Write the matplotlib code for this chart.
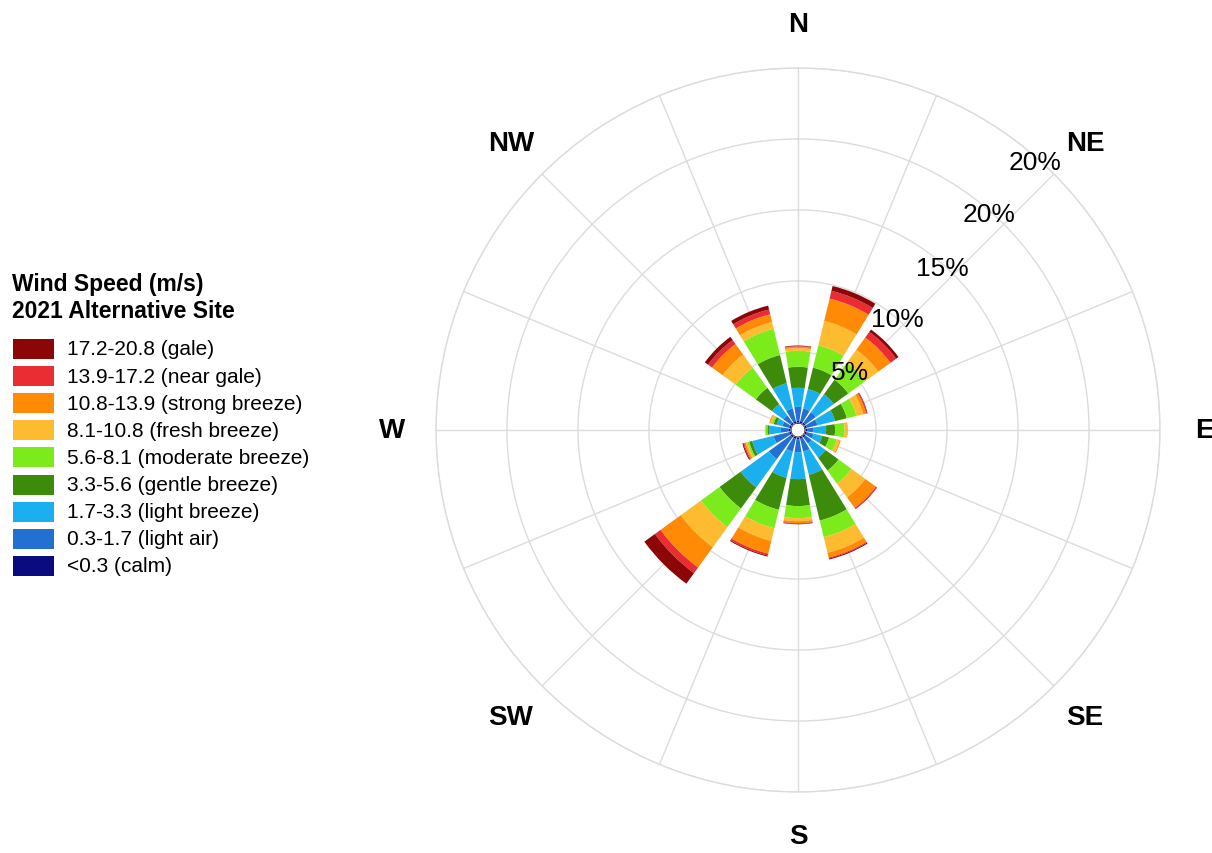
import matplotlib
matplotlib.use("Agg")
import matplotlib.pyplot as plt
import numpy as np
from matplotlib.patches import Rectangle, Circle

# ---------------- data ----------------
directions = ['N', 'NNE', 'NE', 'ENE', 'E', 'ESE', 'SE', 'SSE',
              'S', 'SSW', 'SW', 'WSW', 'W', 'WNW', 'NW', 'NNW']
dir_angles = [0, 22.5, 45, 67.5, 90, 112.5, 135, 157.5,
              180, 202.5, 225, 247.5, 270, 292.5, 315, 337.5]

# frequency (%) per speed class, one value per direction (N, NNE, ... NNW)
calm       = [0.14, 0.14, 0.14, 0.14, 0.14, 0.14, 0.14, 0.14, 0.14, 0.14, 0.14, 0.14, 0.14, 0.14, 0.14, 0.14]
light_air  = [0.99, 0.92, 0.92, 0.77, 0.42, 0.49, 0.56, 0.92, 0.92, 0.92, 1.90, 1.13, 0.56, 0.49, 0.63, 0.92]
light_brz  = [1.34, 1.41, 1.55, 1.27, 0.92, 0.63, 1.20, 1.69, 1.90, 1.90, 2.46, 1.55, 0.85, 0.42, 0.99, 1.83]
gentle_brz = [1.48, 1.55, 1.27, 0.85, 0.63, 0.49, 1.13, 3.31, 1.90, 2.32, 1.83, 0.21, 0.11, 0.21, 1.41, 2.04]
moder_brz  = [1.13, 1.62, 1.48, 0.70, 0.67, 0.56, 1.13, 1.20, 0.85, 1.34, 1.62, 0.14, 0.14, 0.14, 1.76, 1.90]
fresh_brz  = [0.18, 1.76, 1.13, 0.49, 0.18, 0.21, 1.20, 1.13, 0.21, 0.92, 1.76, 0.11, 0.04, 0.11, 1.13, 0.49]
strong_brz = [0.11, 1.62, 1.06, 0.21, 0.04, 0.07, 0.92, 0.35, 0.14, 0.92, 1.76, 0.11, 0.00, 0.07, 0.92, 0.56]
near_gale  = [0.04, 0.56, 0.49, 0.07, 0.00, 0.00, 0.07, 0.07, 0.04, 0.14, 0.49, 0.07, 0.00, 0.00, 0.35, 0.35]
gale       = [0.04, 0.35, 0.21, 0.04, 0.00, 0.00, 0.04, 0.07, 0.04, 0.07, 0.92, 0.07, 0.00, 0.00, 0.28, 0.28]

speed_bins = [calm, light_air, light_brz, gentle_brz, moder_brz,
              fresh_brz, strong_brz, near_gale, gale]
bin_labels = ['<0.3 (calm)', '0.3-1.7 (light air)', '1.7-3.3 (light breeze)',
              '3.3-5.6 (gentle breeze)', '5.6-8.1 (moderate breeze)',
              '8.1-10.8 (fresh breeze)', '10.8-13.9 (strong breeze)',
              '13.9-17.2 (near gale)', '17.2-20.8 (gale)']
bin_colors = ['#0b0b80', '#2270d2', '#1ab0ef', '#3c8b0b', '#7ceb1c',
              '#fdbb30', '#ff8a05', '#ea2d32', '#8c0608']

r_ticks = [5, 10, 15, 20, 25]
r_tick_labels = ['5%', '10%', '15%', '20%', '20%']
compass = ['N', 'NE', 'E', 'SE', 'S', 'SW', 'W', 'NW']
compass_angles = [0, 45, 90, 135, 180, 225, 270, 315]
legend_title = 'Wind Speed (m/s)\n2021 Alternative Site'

# ---------------- figure ----------------
W, H = 1212, 854
fig = plt.figure(figsize=(W / 100, H / 100), dpi=100)
fig.patch.set_facecolor('white')

cx, cy, R = 798, 431, 362
ax = fig.add_axes([(cx - R) / W, (H - cy - R) / H, 2 * R / W, 2 * R / H],
                  projection='polar')
ax.set_theta_zero_location('N')
ax.set_theta_direction(-1)
ax.set_ylim(0, 25)
ax.set_rorigin(-0.5)

theta = np.deg2rad(dir_angles)
width = np.deg2rad(22.5) * 0.8
bottom = np.zeros(len(directions))
for vals, col in zip(speed_bins, bin_colors):
    vals = np.asarray(vals)
    ax.bar(theta, vals, width=width, bottom=bottom, color=col,
           edgecolor='none', linewidth=0, zorder=3, align='center')
    bottom = bottom + vals

grid_col = '#dcdcdc'
ax.set_rticks(r_ticks)
ax.set_yticklabels([])
ax.set_xticks(theta)
ax.set_xticklabels([])
ax.grid(True, color=grid_col, linewidth=1.0)
ax.set_axisbelow(True)
ax.spines['polar'].set_color(grid_col)
ax.spines['polar'].set_linewidth(1.0)
if 'inner' in ax.spines:
    ax.spines['inner'].set_visible(False)
ax.tick_params(length=0)

# center hole
ax.add_patch(Circle((0.5, 0.5), 7.5 / (2 * R), transform=ax.transAxes,
                    facecolor='#dedede', edgecolor='none', zorder=5))

# radial labels
lab_r = [5.0, 10.0, 14.8, 19.8, 24.7]
for rr, lab in zip(lab_r, r_tick_labels):
    ax.text(np.deg2rad(41.6), rr, lab, ha='center', va='center',
            fontsize=19, family='Liberation Sans', color='black', zorder=6)

# compass labels
for a, lab in zip(compass_angles, compass):
    ax.text(np.deg2rad(a), 28.1, lab, ha='center', va='center',
            fontsize=20, fontweight='bold', family='Liberation Sans',
            color='black', clip_on=False)

# ---------------- legend ----------------
title_lines = legend_title.split('\n')
for i, line in enumerate(title_lines):
    fig.text(12 / W, 1 - (285 + 26 * i) / H, line, ha='left', va='center',
             fontsize=16.5, fontweight='bold', family='Liberation Sans')

row0, dy = 350, 27.1
for i, (lab, col) in enumerate(zip(bin_labels[::-1], bin_colors[::-1])):
    yc = row0 + dy * i
    fig.patches.append(Rectangle((12.5 / W, 1 - (yc + 10) / H), 41 / W, 20 / H,
                                 transform=fig.transFigure, facecolor=col,
                                 edgecolor='none'))
    fig.text(67 / W, 1 - yc / H, lab, ha='left', va='center',
             fontsize=15, family='Liberation Sans')

fig.savefig('out.png', dpi=100, facecolor='white')
